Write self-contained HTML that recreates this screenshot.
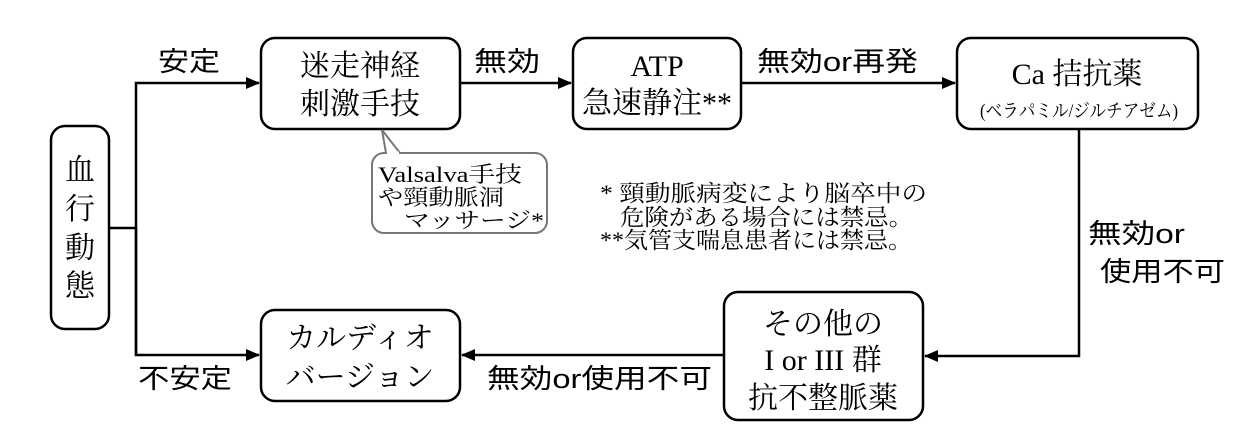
<!DOCTYPE html>
<html><head><meta charset="utf-8"><style>
html,body{margin:0;padding:0;background:#fff;}
svg{display:block;}
.b{fill:#fff;stroke:#000;stroke-width:2.5;}
.s{font-family:"Liberation Serif","Noto Serif CJK SC",serif;fill:#000;}
.g{font-family:"Liberation Sans","Noto Sans CJK JP",sans-serif;fill:#000;}
.l{stroke:#000;stroke-width:2.5;fill:none;}
</style></head><body>
<svg width="1254" height="432" viewBox="0 0 1254 432" xmlns="http://www.w3.org/2000/svg">
<defs><marker id="a" markerWidth="14" markerHeight="12" refX="13" refY="6" orient="auto" markerUnits="userSpaceOnUse"><path d="M0,0 L14,6 L0,12 Z" fill="#000"/></marker></defs>
<polyline class="l" points="109,228 136,228"/>
<polyline class="l" points="136,355 136,83 259,83" marker-end="url(#a)"/>
<polyline class="l" points="136,228 136,355 259,355" marker-end="url(#a)"/>
<line class="l" x1="460" y1="83" x2="571" y2="83" marker-end="url(#a)"/>
<line class="l" x1="741" y1="83" x2="955" y2="83" marker-end="url(#a)"/>
<polyline class="l" points="1079,129 1079,356 925,356" marker-end="url(#a)"/>
<line class="l" x1="724" y1="355" x2="462" y2="355" marker-end="url(#a)"/>
<rect class="b" x="51" y="126" width="58" height="203" rx="14"/>
<rect class="b" x="261" y="38" width="199" height="91" rx="14"/>
<rect class="b" x="573" y="38" width="168" height="91" rx="14"/>
<rect class="b" x="957" y="38" width="241" height="91" rx="14"/>
<rect class="b" x="261" y="310" width="199" height="91" rx="14"/>
<rect class="b" x="724" y="292" width="199" height="128" rx="14"/>
<path d="M386,153 L382,130 L400,153" fill="#fff" stroke="#777" stroke-width="2"/>
<rect x="372" y="153" width="175" height="80" rx="12" fill="none" stroke="#777" stroke-width="2"/>
<line x1="387" y1="153" x2="399" y2="153" stroke="#fff" stroke-width="3"/>
<g class="s" font-size="22">
<text x="378" y="182" textLength="144" lengthAdjust="spacingAndGlyphs">Valsalva手技</text>
<text x="378" y="205" textLength="126" lengthAdjust="spacingAndGlyphs">や頸動脈洞</text>
<text x="404" y="228" textLength="140" lengthAdjust="spacingAndGlyphs">マッサージ*</text>
</g>
<g class="s" font-size="30" text-anchor="middle">
<text x="80" y="180">血</text><text x="80" y="219">行</text><text x="80" y="258">動</text><text x="80" y="296">態</text>
<text x="360" y="76">迷走神経</text><text x="360" y="114">刺激手技</text>
<text x="657" y="76">ATP</text><text x="657" y="113">急速静注**</text>
<text x="1077" y="84">Ca 拮抗薬</text>
<text x="823" y="334">その他の</text><text x="823" y="370">I or III 群</text><text x="823" y="408">抗不整脈薬</text>
<text x="360" y="348">カルディオ</text><text x="360" y="387">バージョン</text>
</g>
<text class="s" font-size="19" x="980" y="117" textLength="198" lengthAdjust="spacingAndGlyphs">(ベラパミル/ジルチアゼム)</text>
<g class="g" font-size="27">
<text x="158" y="71" textLength="62" lengthAdjust="spacingAndGlyphs">安定</text>
<text x="474" y="71" textLength="66" lengthAdjust="spacingAndGlyphs">無効</text>
<text x="757" y="71" textLength="161" lengthAdjust="spacingAndGlyphs">無効or再発</text>
<text x="1088" y="243" textLength="97" lengthAdjust="spacingAndGlyphs">無効or</text>
<text x="1100" y="281" textLength="125" lengthAdjust="spacingAndGlyphs">使用不可</text>
<text x="138" y="388" textLength="94" lengthAdjust="spacingAndGlyphs">不安定</text>
<text x="487" y="388" textLength="225" lengthAdjust="spacingAndGlyphs">無効or使用不可</text>
</g>
<g class="s" font-size="23">
<text x="600" y="201" textLength="327" lengthAdjust="spacingAndGlyphs">*  頸動脈病変により脳卒中の</text>
<text x="620" y="225" textLength="293" lengthAdjust="spacingAndGlyphs">危険がある場合には禁忌。</text>
<text x="600" y="248" textLength="312" lengthAdjust="spacingAndGlyphs">**気管支喘息患者には禁忌。</text>
</g>
</svg>
</body></html>
